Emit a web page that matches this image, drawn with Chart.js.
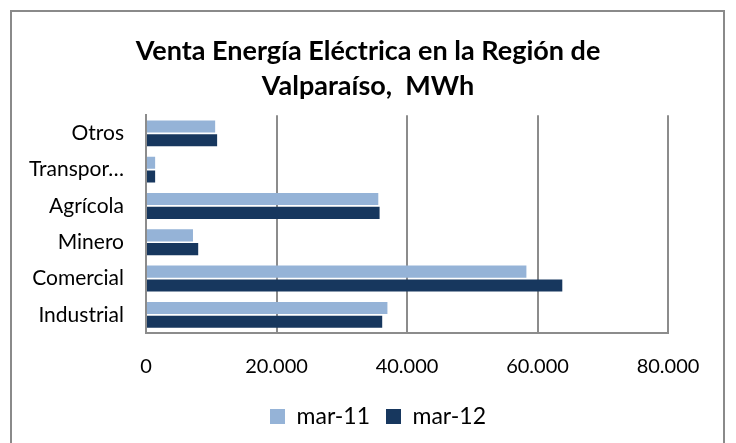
<!DOCTYPE html>
<html>
<head>
<meta charset="utf-8">
<script src="https://cdn.jsdelivr.net/npm/chart.js@4"></script>
<style>
html,body{margin:0;padding:0;background:#fff;}
#wrap{position:absolute;left:0;top:0;width:736px;height:443px;}
</style>
</head>
<body>
<div id="wrap"><canvas id="c" width="736" height="443"></canvas></div>
<script>
const categories = ["Otros", "Transpor…", "Agrícola", "Minero", "Comercial", "Industrial"];
const mar11 = [10600, 1400, 35600, 7200, 58300, 37000];
const mar12 = [10900, 1400, 35800, 8000, 63800, 36200];
const seriesNames = ["mar-11", "mar-12"];
const xTicks = [0, 20000, 40000, 60000, 80000];

const FONT = "Lato, 'Open Sans', sans-serif";

const borderPlugin = {
  id: 'outerBorder',
  afterLayout(chart) {
    const t = chart.titleBlock;
    if (t) { t.left += 24; t.right += 24; }
    const l = chart.legend;
    if (l) { l.left += 34; l.right += 34; l.top -= 4; l.bottom -= 4; }
  },
  beforeDraw(chart) {
    const ctx = chart.ctx;
    ctx.save();
    ctx.fillStyle = '#fff';
    ctx.fillRect(0, 0, chart.width, chart.height);
    ctx.strokeStyle = '#8a8a8a';
    ctx.lineWidth = 2;
    ctx.strokeRect(11, 11, 713, 445);
    ctx.restore();
  }
};

new Chart(document.getElementById('c'), {
  type: 'bar',
  data: {
    labels: categories,
    datasets: [
      { label: seriesNames[0], data: mar11, backgroundColor: '#95B3D7', borderWidth: 0,
        categoryPercentage: 0.76, barPercentage: 0.88 },
      { label: seriesNames[1], data: mar12, backgroundColor: '#17375E', borderWidth: 0,
        categoryPercentage: 0.76, barPercentage: 0.88 }
    ]
  },
  options: {
    indexAxis: 'y',
    responsive: false,
    animation: false,
    devicePixelRatio: 1,
    layout: { padding: { left: 20, right: 68, top: 15, bottom: 1 } },
    plugins: {
      title: {
        display: true,
        text: ["Venta Energía Eléctrica en la Región de", "Valparaíso,  MWh"],
        color: '#000',
        font: { family: FONT, size: 27, weight: 'bold', lineHeight: 1.3 },
        padding: { top: 19, bottom: 11 }
      },
      legend: {
        position: 'bottom',
        labels: {
          color: '#000',
          font: { family: FONT, size: 23 },
          boxWidth: 15, boxHeight: 15,
          padding: 16
        }
      },
      tooltip: { enabled: false }
    },
    scales: {
      x: {
        min: 0, max: 80000,
        afterBuildTicks(scale) { scale.ticks = xTicks.map(v => ({ value: v })); },
        ticks: {
          color: '#000',
          font: { family: FONT, size: 20 },
          padding: 22,
          callback: v => v.toLocaleString('de-DE')
        },
        grid: { color: '#8c8c8c', lineWidth: 2, drawTicks: false },
        border: { display: true, color: '#8c8c8c', width: 2 },
        afterFit(scale) { scale.height = 60; }
      },
      y: {
        ticks: {
          color: '#000',
          font: { family: FONT, size: 21 },
          padding: 22
        },
        grid: { display: false, drawTicks: false },
        border: { display: true, color: '#8c8c8c', width: 2 },
        afterFit(scale) { scale.width = 126; }
      }
    }
  },
  plugins: [borderPlugin]
});
</script>
</body>
</html>
